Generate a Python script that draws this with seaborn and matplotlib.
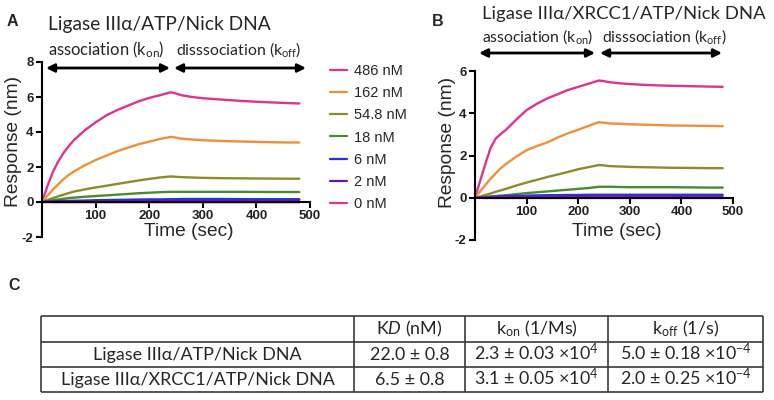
import numpy as np
import pandas as pd
import matplotlib
matplotlib.use("Agg")
import matplotlib.pyplot as plt
import seaborn as sns

# ---------------- data ----------------
time_s = [0, 10, 20, 30, 40, 50, 60, 80, 100, 120, 140, 160, 180, 200, 220,
          240, 250, 260, 280, 300, 340, 380, 420, 460, 480]
conc_labels = ["486 nM", "162 nM", "54.8 nM", "18 nM", "6 nM", "2 nM", "0 nM"]
conc_colors = ["#E0338A", "#F0903A", "#8C8C2C", "#4A8C2C", "#2A2AF5", "#5C1EA8", "#E0338A"]

# Panel A: Ligase IIIa/ATP/Nick DNA
a_486 = [0, 0.9, 1.7, 2.3, 2.8, 3.2, 3.55, 4.1, 4.55, 4.95, 5.25, 5.5, 5.75, 5.95, 6.1,
         6.27, 6.2, 6.1, 6.0, 5.93, 5.84, 5.76, 5.7, 5.65, 5.63]
a_162 = [0, 0.35, 0.7, 1.0, 1.3, 1.55, 1.75, 2.1, 2.4, 2.65, 2.9, 3.1, 3.3, 3.45, 3.6,
         3.72, 3.68, 3.62, 3.57, 3.53, 3.48, 3.45, 3.42, 3.4, 3.4]
a_548 = [0, 0.11, 0.22, 0.32, 0.42, 0.51, 0.6, 0.72, 0.83, 0.93, 1.03, 1.13, 1.23, 1.32, 1.4,
         1.46, 1.44, 1.42, 1.4, 1.38, 1.36, 1.35, 1.34, 1.33, 1.33]
a_18 = [0, 0.05, 0.1, 0.14, 0.18, 0.22, 0.25, 0.3, 0.34, 0.38, 0.42, 0.46, 0.5, 0.53, 0.56,
        0.58, 0.58, 0.58, 0.58, 0.58, 0.58, 0.58, 0.57, 0.57, 0.57]
a_6 = [0, 0.02, 0.03, 0.04, 0.05, 0.06, 0.07, 0.08, 0.1, 0.11, 0.12, 0.13, 0.14, 0.15, 0.15,
       0.16, 0.16, 0.17, 0.17, 0.17, 0.17, 0.16, 0.16, 0.16, 0.16]
a_2 = [0, 0.01, 0.01, 0.02, 0.02, 0.02, 0.03, 0.03, 0.03, 0.04, 0.04, 0.04, 0.05, 0.05, 0.05,
       0.05, 0.05, 0.05, 0.05, 0.05, 0.05, 0.05, 0.05, 0.05, 0.05]
a_0 = [0, 0, -0.01, -0.01, -0.01, -0.01, -0.01, -0.01, -0.01, -0.01, -0.01, -0.01, -0.01, -0.01, -0.01,
       -0.01, -0.01, -0.01, -0.01, -0.01, -0.01, -0.01, -0.01, -0.01, -0.01]

# Panel B: Ligase IIIa/XRCC1/ATP/Nick DNA
b_486 = [0, 0.8, 1.6, 2.35, 2.8, 3.02, 3.22, 3.7, 4.15, 4.45, 4.7, 4.9, 5.1, 5.25, 5.4,
         5.55, 5.52, 5.47, 5.42, 5.38, 5.33, 5.3, 5.28, 5.26, 5.25]
b_162 = [0, 0.3, 0.6, 0.9, 1.15, 1.4, 1.6, 1.95, 2.25, 2.45, 2.62, 2.85, 3.05, 3.22, 3.4,
         3.58, 3.55, 3.52, 3.5, 3.48, 3.45, 3.42, 3.41, 3.4, 3.39]
b_548 = [0, 0.06, 0.13, 0.2, 0.28, 0.35, 0.42, 0.58, 0.72, 0.85, 0.98, 1.1, 1.22, 1.35, 1.45,
         1.55, 1.53, 1.5, 1.48, 1.46, 1.44, 1.42, 1.41, 1.4, 1.4]
b_18 = [0, 0.02, 0.04, 0.06, 0.08, 0.1, 0.12, 0.17, 0.22, 0.26, 0.3, 0.34, 0.38, 0.42, 0.46,
        0.52, 0.52, 0.52, 0.51, 0.5, 0.5, 0.5, 0.49, 0.48, 0.48]
b_6 = [0, 0.02, 0.03, 0.04, 0.06, 0.07, 0.08, 0.09, 0.1, 0.11, 0.12, 0.12, 0.13, 0.13, 0.14,
       0.14, 0.14, 0.14, 0.14, 0.14, 0.14, 0.14, 0.14, 0.14, 0.14]
b_2 = [0, 0.01, 0.01, 0.01, 0.02, 0.02, 0.02, 0.03, 0.03, 0.03, 0.03, 0.04, 0.04, 0.04, 0.04,
       0.04, 0.04, 0.04, 0.04, 0.04, 0.04, 0.04, 0.04, 0.04, 0.04]
b_0 = [0, 0, -0.01, -0.01, -0.01, -0.01, -0.01, -0.01, -0.01, -0.01, -0.01, -0.01, -0.01, -0.01, -0.01,
       -0.01, -0.01, -0.01, -0.01, -0.01, -0.01, -0.01, -0.01, -0.01, -0.01]

titles = ["Ligase IIIα/ATP/Nick DNA", "Ligase IIIα/XRCC1/ATP/Nick DNA"]
x_ticks = [100, 200, 300, 400, 500]
a_yticks = [-2, 0, 2, 4, 6, 8]
b_yticks = [-2, 0, 2, 4, 6]

table_header = [r"K$\mathit{D}$ (nM)", r"k$_{\mathrm{on}}$ (1/Ms)", r"k$_{\mathrm{off}}$ (1/s)"]
table_rows = ["Ligase IIIα/ATP/Nick DNA", "Ligase IIIα/XRCC1/ATP/Nick DNA"]
table_kd = ["22.0 ± 0.8", "6.5 ± 0.8"]
table_kon = [r"2.3 ± 0.03 ×10$^{4}$", r"3.1 ± 0.05 ×10$^{4}$"]
table_koff = [r"5.0 ± 0.18 ×10$^{-4}$", r"2.0 ± 0.25 ×10$^{-4}$"]


def long_df(series):
    frames = []
    for lab, vals in zip(conc_labels, series):
        frames.append(pd.DataFrame({"Time": time_s, "Response": vals, "Conc": lab}))
    return pd.concat(frames, ignore_index=True)


dfA = long_df([a_486, a_162, a_548, a_18, a_6, a_2, a_0])
dfB = long_df([b_486, b_162, b_548, b_18, b_6, b_2, b_0])
palette = dict(zip(conc_labels, conc_colors))

# ---------------- style ----------------
sns.set_style("ticks")
plt.rcParams["font.family"] = ["Liberation Sans", "DejaVu Sans"]
plt.rcParams["font.weight"] = "bold"          # tick labels bold
plt.rcParams["axes.unicode_minus"] = False
plt.rcParams["mathtext.fontset"] = "custom"
plt.rcParams["mathtext.rm"] = "Lato:weight=normal"
plt.rcParams["mathtext.it"] = "Lato:style=italic:weight=normal"
plt.rcParams["mathtext.bf"] = "Lato:weight=bold"

W, H = 774, 400
fig = plt.figure(figsize=(W / 100, H / 100), dpi=100)


def rect(l, t, r, b):
    return [l / W, 1 - b / H, (r - l) / W, (b - t) / H]


axA = fig.add_axes(rect(42, 62, 310, 237))
axB = fig.add_axes(rect(475, 71, 733, 240))

sns.lineplot(data=dfA, x="Time", y="Response", hue="Conc", hue_order=conc_labels,
             palette=palette, linewidth=1.7, estimator=None, sort=False, ax=axA)
sns.lineplot(data=dfB, x="Time", y="Response", hue="Conc", hue_order=conc_labels,
             palette=palette, linewidth=1.7, estimator=None, sort=False, legend=False, ax=axB)


def style(ax, ylim, yticks):
    ax.set_xlim(0, 500)
    ax.set_ylim(*ylim)
    ax.spines["bottom"].set_position(("data", 0))
    ax.spines[["top", "right"]].set_visible(False)
    for s in ["left", "bottom"]:
        ax.spines[s].set_linewidth(1.5)
        ax.spines[s].set_color("black")
    ax.set_xticks(x_ticks)
    ax.set_yticks(yticks)
    ax.tick_params(width=1.5, length=4, labelsize=9.5, pad=2, color="black",
                   labelcolor="#222222")
    ax.set_xlabel("")
    ax.set_ylabel("")
    ax.patch.set_alpha(0)


style(axA, (-2, 8), a_yticks)
style(axB, (-2, 6), b_yticks)

handles, labels = axA.get_legend_handles_labels()
leg = axA.legend(handles, labels, loc="upper left", bbox_to_anchor=(330 / W, 1 - 64 / H),
                 bbox_transform=fig.transFigure, frameon=False,
                 prop={"size": 10.5, "weight": "normal"},
                 handlelength=1.17, handletextpad=0.48, labelspacing=0.56,
                 borderpad=0, borderaxespad=0)
for ln in leg.get_lines():
    ln.set_linewidth(1.6)

# ---------------- overlay (pixel coordinates) ----------------
ov = fig.add_axes([0, 0, 1, 1])
ov.set_xlim(0, W)
ov.set_ylim(H, 0)
ov.axis("off")
ov.patch.set_alpha(0)

for x, y, s in [(12, 22, "A"), (438, 22, "B"), (14, 285, "C")]:
    ov.text(x, y, s, fontsize=11.5, fontweight="bold", ha="center", va="center")

ov.text(48, 30, titles[0], family="Lato", fontweight="normal", fontsize=13.8, ha="left", va="baseline")
ov.text(482, 19, titles[1], family="Lato", fontweight="normal", fontsize=13.3, ha="left", va="baseline")

txt_kw = dict(family="Lato", fontweight="normal", va="baseline", ha="left")
ov.text(48, 55, r"association (k$_{\mathrm{on}}$)", fontsize=11.9, **txt_kw)
ov.text(176, 55, r"disssociation (k$_{\mathrm{off}}$)", fontsize=11.4, **txt_kw)
ov.text(482, 42, r"association (k$_{\mathrm{on}}$)", fontsize=11.3, **txt_kw)
ov.text(602, 42, r"disssociation (k$_{\mathrm{off}}$)", fontsize=11.3, **txt_kw)

arrow_kw = dict(arrowstyle="<|-|>", lw=2, color="black", mutation_scale=12, shrinkA=0, shrinkB=0)
for x0, x1, y in [(46, 170, 68), (174, 306, 68), (479, 595, 53), (600, 722, 53)]:
    ov.annotate("", xy=(x1, y), xytext=(x0, y), arrowprops=arrow_kw)

for x, y in [(14, 141), (447, 142)]:
    ov.text(x, y, "Response (nm)", rotation=90, ha="center", va="center",
            fontsize=13.8, fontweight="normal")
for x, y in [(189, 231), (617, 231)]:
    ov.text(x, y, "Time (sec)", ha="center", va="center", fontsize=13.8, fontweight="normal")

# table
cols_x = [41, 354, 465, 608, 763]
rows_y = [316, 341.5, 366.5, 392]
ov.hlines(rows_y, cols_x[0], cols_x[-1], color="#3a3a3a", lw=1.2)
ov.vlines(cols_x, rows_y[0], rows_y[-1], color="#3a3a3a", lw=1.2)
tfs = 12.9
centers = [(cols_x[i] + cols_x[i + 1]) / 2 for i in range(4)]
base0 = (rows_y[0] + rows_y[1]) / 2 + 6
tab_kw = dict(family="Lato", fontweight="normal", fontsize=tfs, ha="center", va="baseline")
for j, h in enumerate(table_header):
    ov.text(centers[j + 1], base0, h, **tab_kw)
for i in range(2):
    b = (rows_y[i + 1] + rows_y[i + 2]) / 2 + 6
    for j, s in enumerate([table_rows[i], table_kd[i], table_kon[i], table_koff[i]]):
        ov.text(centers[j], b, s, **tab_kw)

fig.savefig("out.png", dpi=100)
